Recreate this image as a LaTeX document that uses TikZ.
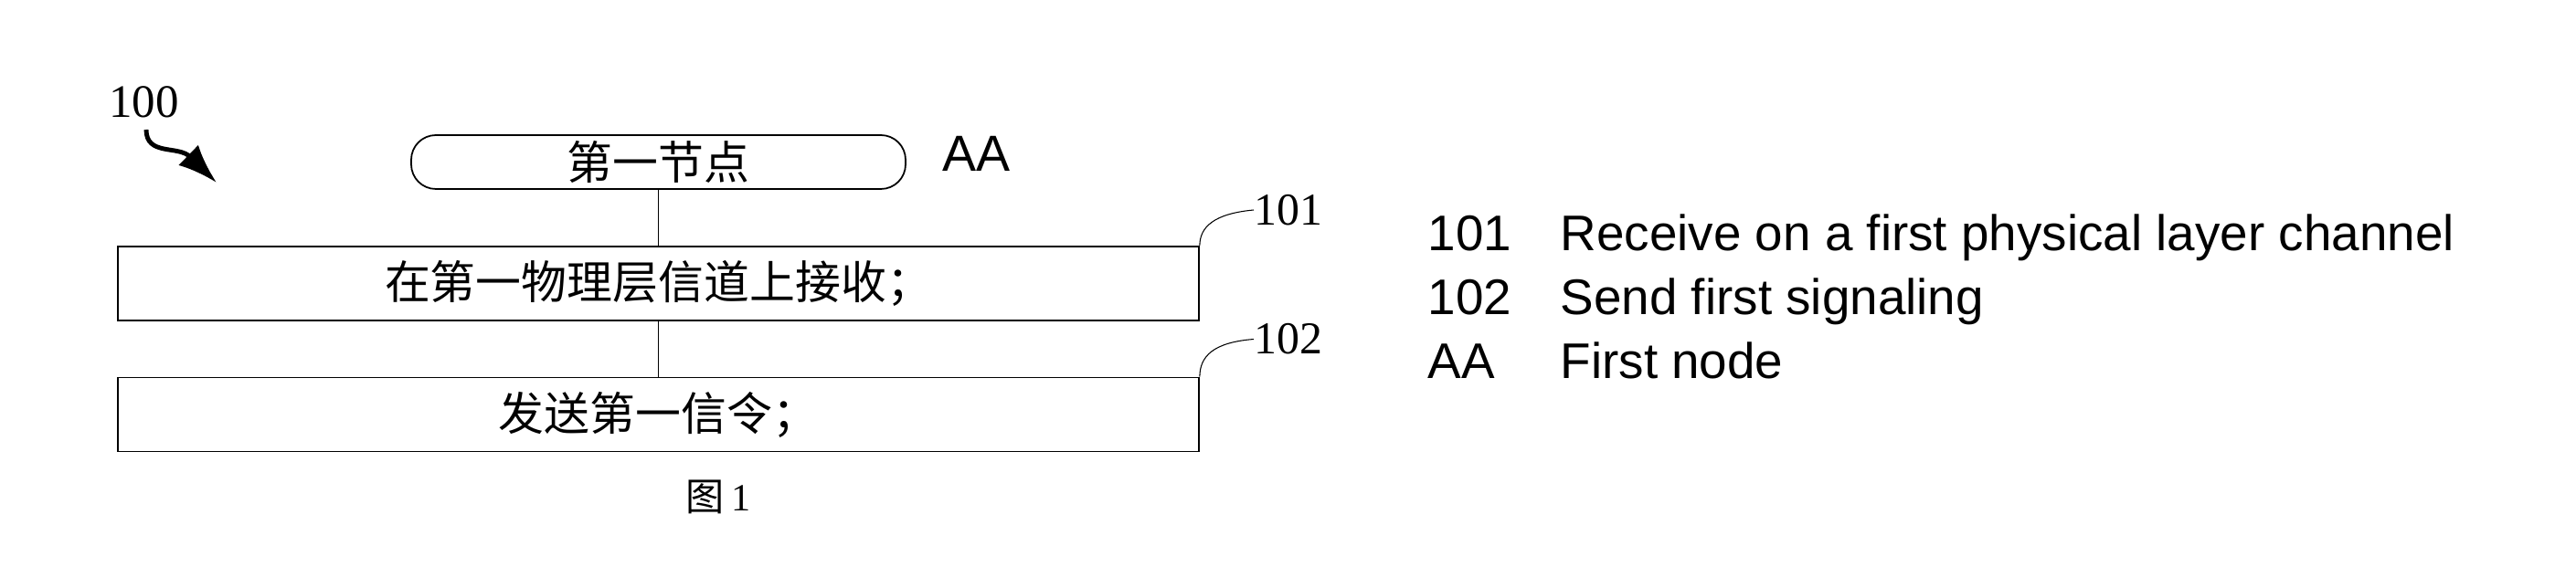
\documentclass[tikz,border=0pt]{standalone}
\usepackage{fontspec}
\setmainfont{Liberation Serif}
\newfontfamily\cjk{Noto Sans CJK SC}
\newfontfamily\arialfont{Liberation Sans}
\usetikzlibrary{positioning,arrows.meta}

\begin{document}
\begin{tikzpicture}[node distance=0.61cm,
    stepbox/.style={rectangle, draw, line width=0.5pt, minimum width=11.83cm, minimum height=0.81cm, inner sep=0pt, font=\cjk\fontsize{14.2pt}{17pt}\selectfont},
    startbox/.style={rectangle, draw, rounded corners=0.27cm, line width=0.5pt, minimum width=5.41cm, minimum height=0.59cm, inner sep=0pt, font=\cjk\fontsize{14.2pt}{17pt}\selectfont},
    reflabel/.style={inner sep=0pt, anchor=west, font=\fontsize{14.2pt}{17pt}\selectfont},
    legend/.style={inner sep=0pt, anchor=base west, font=\arialfont\fontsize{15.6pt}{19pt}\selectfont}]

    \useasboundingbox (0,0) rectangle (28.19,6.21);

    % flow
    \node[startbox] (start) at (7.205,4.435) {第一节点};
    \node[stepbox, below=of start] (recv) {在第一物理层信道上接收；};
    \node[stepbox, below=of recv] (send) {发送第一信令；};

    \draw[line width=0.4pt] (start) -- (recv);
    \draw[line width=0.4pt] (recv) -- (send);

    % reference numbers
    \node[font=\arialfont\fontsize{15.8pt}{19pt}\selectfont, inner sep=0pt] (aa) at (10.685,4.525) {AA};
    \node[reflabel] (l101) at (13.72,3.91) {101};
    \node[reflabel] (l102) at (13.72,2.495) {102};
    \draw[line width=0.3pt] (recv.north east) .. controls (13.13,3.72) and (13.28,3.87) .. (l101.west);
    \draw[line width=0.3pt] (send.north east) .. controls (13.13,2.31) and (13.28,2.46) .. (l102.west);

    \node[inner sep=0pt, font=\fontsize{14.5pt}{17pt}\selectfont] (fig100) at (1.575,5.095) {100};
    \coordinate (tip100) at (2.37,4.21);
    \draw[line width=1.4pt, -{Latex[length=0.43cm, width=0.31cm]}] (1.60,4.79) .. controls (1.60,4.50) and (1.95,4.62) .. (tip100);

    % legend
    \node[legend] (n101) at (15.62,3.46) {101};
    \node[legend] (t101) at (17.07,3.46) {Receive on a first physical layer channel};
    \node[legend] (n102) at (15.62,2.76) {102};
    \node[legend] (t102) at (17.07,2.76) {Send first signaling};
    \node[legend] (naa) at (15.62,2.06) {AA};
    \node[legend] (taa) at (17.07,2.06) {First node};

    \node[inner sep=0pt, font=\fontsize{12pt}{14pt}\selectfont] (fig) at (7.86,0.77) {{\cjk 图}\,1};
\end{tikzpicture}
\end{document}
